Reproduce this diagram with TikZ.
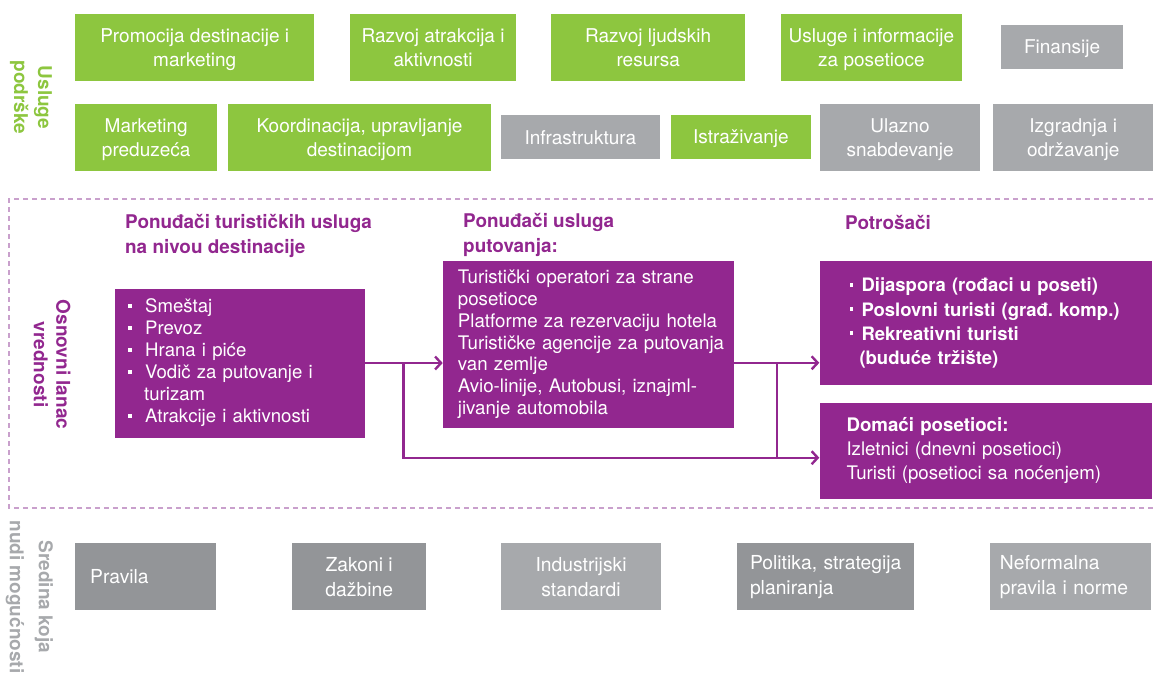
\documentclass[tikz,border=0pt]{standalone}
\usepackage{fontspec}
\setmainfont{TeX Gyre Heros}
\usetikzlibrary{arrows.meta}
\frenchspacing

\definecolor{supgreen}{HTML}{8DC63F}
\definecolor{suplgray}{HTML}{A7A9AC}
\definecolor{supdgray}{HTML}{939598}
\definecolor{chainpurple}{HTML}{92278F}
\definecolor{framepurple}{HTML}{C9A0CC}

\newcommand{\sqitem}[1]{\makebox[#1][l]{\rule[0.28em]{0.2em}{0.2em}}}

\begin{document}
\begin{tikzpicture}[x=1pt,y=-1pt,
	box/.style={rectangle, anchor=north west, inner sep=0pt, text=white, align=center,
		font=\fontsize{19}{24.3}\selectfont},
	greenbox/.style={box, fill=supgreen, text depth=0pt},
	graybox/.style={box, fill=suplgray, text depth=0pt},
	envbox/.style={box, fill=supdgray, font=\fontsize{19.3}{25}\selectfont},
	lenvbox/.style={envbox, fill=suplgray},
	chainbox/.style={box, fill=chainpurple, align=left, inner ysep=0pt},
	header/.style={anchor=west, inner sep=0pt, align=left, text=chainpurple,
		font=\bfseries\fontsize{18.9}{25}\selectfont},
	sidelabel/.style={rotate=-90, inner sep=0pt, align=center, font=\bfseries\fontsize{19}{24}\selectfont},
	flow/.style={draw=chainpurple, line width=2.4pt},
	flowarrow/.style={flow, -{Straight Barb[length=6pt,width=13pt,line width=2.4pt]}}]

	\useasboundingbox (0,0) rectangle (1153,673);

	% support services, first row
	\node[greenbox, minimum width=239, minimum height=67] (promo) at (75,13.7) {Promocija destinacije i\\marketing};
	\node[greenbox, minimum width=165.7, minimum height=67] (attract) at (350,13.7) {Razvoj atrakcija i\\aktivnosti};
	\node[greenbox, minimum width=194, minimum height=67] (people) at (551,13.7) {Razvoj ljudskih\\resursa};
	\node[greenbox, minimum width=181, minimum height=67] (visitinfo) at (780.7,13.7) {Usluge i informacije\\za posetioce};
	\node[graybox, minimum width=121.7, minimum height=43.7] (finance) at (1001,25) {Finansije};
	% support services, second row
	\node[greenbox, minimum width=142, minimum height=67] (firmmkt) at (75,103.7) {Marketing\\preduzeća};
	\node[greenbox, minimum width=262.7, minimum height=67] (coord) at (228,103.7) {Koordinacija, upravljanje\\destinacijom};
	\node[graybox, minimum width=159.7, minimum height=43.7] (infra) at (500.3,115) {Infrastruktura};
	\node[greenbox, minimum width=140, minimum height=43.7] (research) at (670.7,115) {Istraživanje};
	\node[graybox, minimum width=159.7, minimum height=67] (supply) at (820,103.7) {Ulazno\\snabdevanje};
	\node[graybox, minimum width=160, minimum height=67] (upkeep) at (993,103.7) {Izgradnja i\\održavanje};

	% side labels
	\node[sidelabel, text=supgreen] (support) at (31,97.5) {Usluge\\podrške};
	\node[sidelabel, text=chainpurple, font=\bfseries\fontsize{19}{22.5}\selectfont] (chain) at (52,364.5) {Osnovni lanac\\vrednosti};
	\node[sidelabel, text=suplgray, font=\bfseries\fontsize{19}{29}\selectfont] (enabling) at (29.3,597) {Sredina koja\\nudi mogućnosti};

	% value chain frame
	\draw[framepurple, line width=1.8pt, dash pattern=on 5pt off 4pt] (1153,199) -- (9,199) -- (9,508) -- (1153,508);

	% column headers
	\node[header] (hdest) at (125,236) {Ponuđači turističkih usluga\\na nivou destinacije};
	\node[header] (htravel) at (463,235) {Ponuđači usluga\\putovanja:};
	\node[header] (hcons) at (845,222) {Potrošači};

	% value chain boxes
	\node[chainbox, minimum width=250, minimum height=149, inner xsep=13.3, text width=223.4,
		font=\fontsize{18.6}{22}\selectfont] (dest) at (114.7,288.3)
		{\sqitem{17pt}Smeštaj\\\sqitem{17pt}Prevoz\\\sqitem{17pt}Hrana i piće\\\sqitem{17pt}Vodič za putovanje i\\\hspace*{16pt}turizam\\\sqitem{17pt}Atrakcije i aktivnosti};
	\node[chainbox, minimum width=290.6, minimum height=166.3, inner xsep=15, text width=260.6,
		font=\fontsize{18.7}{21.8}\selectfont] (travel) at (442.7,261)
		{\mbox{Turistički operatori za strane}\\posetioce\\\mbox{Platforme za rezervaciju hotela}\\\mbox{Turističke agencije za putovanja}\\van zemlje\\\mbox{Avio-linije, Autobusi, iznajml-}\\jivanje automobila};
	\node[chainbox, minimum width=332.4, minimum height=124, inner xsep=30, text width=272.4,
		font=\bfseries\fontsize{18.5}{24.2}\selectfont] (abroad) at (819.3,261)
		{\sqitem{12pt}Dijaspora (rođaci u poseti)\\\mbox{\sqitem{12pt}Poslovni turisti (građ. komp.)}\\\sqitem{12pt}Rekreativni turisti\\\hspace*{10pt}(buduće tržište)};
	\node[chainbox, minimum width=332.4, minimum height=96, inner xsep=27, text width=278.4,
		font=\fontsize{18.7}{24}\selectfont] (domestic) at (819.3,402.3)
		{\textbf{Domaći posetioci:}\\Izletnici (dnevni posetioci)\\\mbox{Turisti (posetioci sa noćenjem)}};

	% connectors
	\coordinate (split1) at (403.3,362.8);
	\coordinate (split2) at (776.7,362.8);
	\coordinate (low) at (0,457.7);
	\draw[flowarrow] (dest.east) -- (dest.east -| travel.west);
	\draw[flowarrow] (travel.east |- split2) -- (split2 -| abroad.west);
	\draw[flowarrow] (split1) |- (low -| domestic.west);
	\draw[flow] (split2) -- (split2 |- low);

	% enabling environment
	\node[envbox, minimum width=141, minimum height=67, align=left, inner xsep=15, text width=111] (rules) at (75,543) {Pravila};
	\node[envbox, minimum width=134, minimum height=67] (laws) at (292,543) {Zakoni i\\dažbine};
	\node[lenvbox, minimum width=160.3, minimum height=67] (standards) at (500.7,543) {Industrijski\\standardi};
	\node[envbox, minimum width=177.2, minimum height=67, align=left, inner xsep=13, text width=151.2] (policy) at (736.8,543) {\mbox{Politika, strategija}\\planiranja};
	\node[lenvbox, minimum width=161, minimum height=67, align=left, inner xsep=10, text width=141] (norms) at (989.7,543) {Neformalna\\pravila i norme};

\end{tikzpicture}
\end{document}
